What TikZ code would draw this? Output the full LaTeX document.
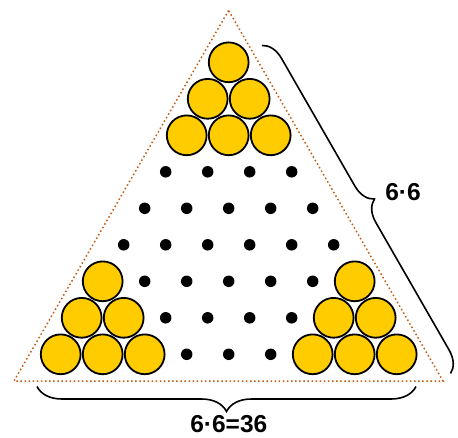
\documentclass[tikz,border=0pt]{standalone}
\usepackage{fontspec}
\setmainfont{Liberation Sans}
\usetikzlibrary{decorations.pathreplacing}
\definecolor{ballyellow}{HTML}{FFCC00}
\definecolor{edgeorange}{HTML}{C55A11}
\begin{document}
\begin{tikzpicture}[x=1pt,y=-1pt,
  ball/.style={circle, draw=black, line width=1.8pt, fill=ballyellow, minimum size=39.8pt, inner sep=0pt},
  pip/.style={circle, fill=black, minimum size=11.5pt, inner sep=0pt},
  edgeline/.style={draw=edgeorange, line width=1.5pt, dash pattern=on 1.5pt off 2.6pt},
  bracestyle/.style={draw=black, line width=1.6pt, decorate, decoration={brace, amplitude=#1}},
  lab/.style={font=\bfseries\fontsize{24.5}{28}\selectfont, inner sep=0pt}]
\useasboundingbox (0,0) rectangle (458,437);
% triangle outline
\coordinate (apex) at (228.6,10.5);
\coordinate (bl) at (14,381);
\coordinate (br) at (443,381);
\draw[edgeline] (apex) -- (bl) -- (br) -- cycle;
% lattice of balls and dots
\foreach \k in {1,...,9} {
  \pgfmathtruncatemacro\last{\k-1}
  \foreach \j in {0,...,\last} {
    \pgfmathsetmacro\px{228.7+(\j-(\k-1)/2)*42}
    \pgfmathsetmacro\py{62.3+(\k-1)*36.5}
    \pgfmathtruncatemacro\isball{(\k<4) || (\j<=\k-7) || (\j>=6)}
    \ifnum\isball=1
      \node[ball] (b\k-\j) at (\px,\py) {};
    \else
      \node[pip] (d\k-\j) at (\px,\py) {};
    \fi
  }
}
% braces
\coordinate (rt) at (262,45.5);
\coordinate (rb) at (450.5,373.5);
\draw[bracestyle=21] (rt) -- (rb);
\coordinate (bbr) at (416,386.5);
\coordinate (bbl) at (37,386.5);
\draw[bracestyle=25] (bbr) -- (bbl);
% labels
\node[lab] (side) at (403,192) {6·6};
\node[lab, anchor=base] (base) at (228.8,432) {6·6=36};
\end{tikzpicture}
\end{document}
